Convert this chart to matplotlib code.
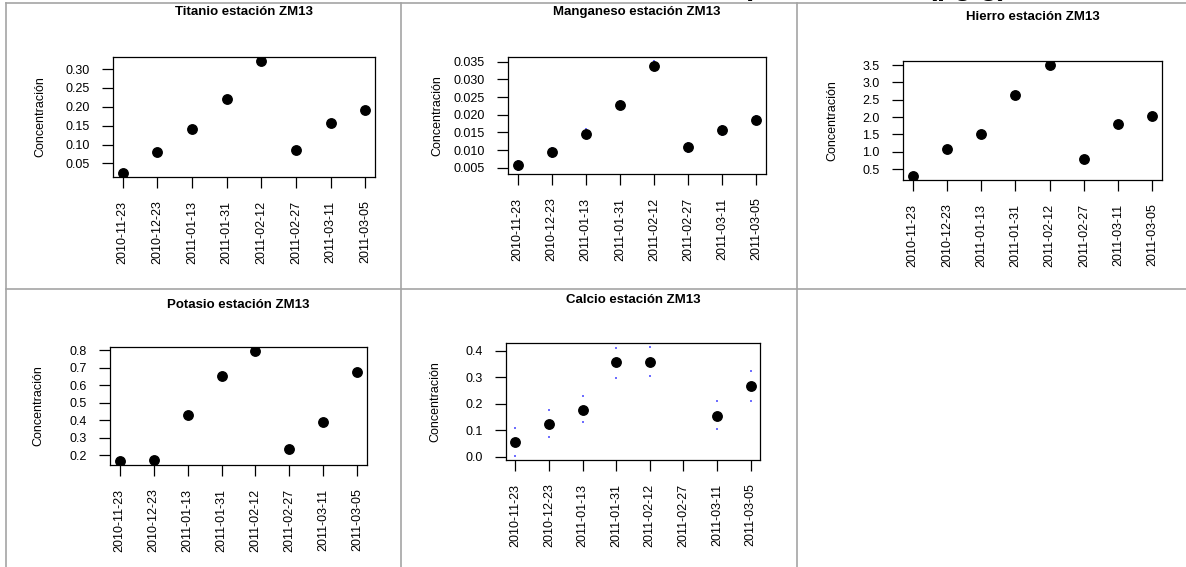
import numpy as np
import matplotlib
matplotlib.use('Agg')
import matplotlib.pyplot as plt
from matplotlib.lines import Line2D
from matplotlib.ticker import FormatStrFormatter

plt.rcParams['font.family'] = ['Liberation Sans', 'DejaVu Sans']

fechas = ['2010-11-23', '2010-12-23', '2011-01-13', '2011-01-31',
          '2011-02-12', '2011-02-27', '2011-03-11', '2011-03-05']

titanio = [0.026, 0.080, 0.142, 0.221, 0.320, 0.085, 0.158, 0.191]
manganeso = [0.0057, 0.0094, 0.0147, 0.0227, 0.0339, 0.0108, 0.0156, 0.0186]
manganeso_err = [0.0012] * 8
hierro = [0.31, 1.08, 1.52, 2.63, 3.49, 0.78, 1.79, 2.04]
potasio = [0.168, 0.174, 0.427, 0.652, 0.794, 0.236, 0.389, 0.678]
calcio = [0.055, 0.124, 0.177, 0.355, 0.357, np.nan, 0.154, 0.265]
calcio_sup = [0.108, 0.177, 0.229, 0.409, 0.412, np.nan, 0.211, 0.321]
calcio_inf = [0.004, 0.073, 0.129, 0.298, 0.305, np.nan, 0.103, 0.210]

W, H = 1186, 567
fig = plt.figure(figsize=(W / 100, H / 100), dpi=100)


def px_axes(x0, x1, y0, y1):
    return fig.add_axes([x0 / W, 1 - y1 / H, (x1 - x0) / W, (y1 - y0) / H])


def r_lim(vals):
    v = np.asarray(vals, dtype=float)
    v = v[~np.isnan(v)]
    lo, hi = v.min(), v.max()
    d = (hi - lo) * 0.04
    return lo - d, hi + d


def panel(box, titulo, title_y, ylab_x, y, ticks, fmt, sup=None, inf=None):
    x0, x1, y0, y1 = box
    ax = px_axes(x0, x1, y0, y1)
    pos = np.arange(len(fechas))
    allv = list(y)
    if sup is not None:
        ax.scatter(pos, sup, s=1.0, marker='s', color='#3030ff', alpha=0.7, lw=0, zorder=2)
        ax.scatter(pos, inf, s=1.0, marker='s', color='#3030ff', alpha=0.7, lw=0, zorder=2)
        allv += list(sup) + list(inf)
    ax.plot(pos, y, 'o', color='black', ms=6.8, zorder=3)
    ax.set_xlim(r_lim(pos))
    ax.set_ylim(r_lim(allv))
    ax.set_xticks(pos)
    ax.set_xticklabels(fechas, rotation=90, fontsize=9)
    ax.set_yticks(ticks)
    ax.yaxis.set_major_formatter(FormatStrFormatter(fmt))
    ax.tick_params(length=8, width=0.9, pad=9, labelsize=9)
    for s in ax.spines.values():
        s.set_linewidth(0.9)
    fig.text((x0 + x1) / 2 / W, 1 - title_y / H, titulo, ha='center', va='center',
             fontsize=9.5, fontweight='bold')
    fig.text(ylab_x / W, 1 - (y0 + y1) / 2 / H, 'Concentración', rotation=90,
             ha='center', va='center', fontsize=9)
    return ax


panel((113, 375, 57, 177), 'Titanio estación ZM13', 12, 40, titanio,
      [0.05, 0.10, 0.15, 0.20, 0.25, 0.30], '%.2f')
mn_sup = [a + b for a, b in zip(manganeso, manganeso_err)]
mn_inf = [a - b for a, b in zip(manganeso, manganeso_err)]
panel((508, 766, 57, 174), 'Manganeso estación ZM13', 12, 437, manganeso,
      [0.005, 0.010, 0.015, 0.020, 0.025, 0.030, 0.035], '%.3f', mn_sup, mn_inf)
panel((903, 1162, 61, 180), 'Hierro estación ZM13', 17, 832, hierro,
      [0.5, 1.0, 1.5, 2.0, 2.5, 3.0, 3.5], '%.1f')
panel((110, 367, 347, 465), 'Potasio estación ZM13', 305, 38, potasio,
      [0.2, 0.3, 0.4, 0.5, 0.6, 0.7, 0.8], '%.1f')
panel((506, 760, 343, 460), 'Calcio estación ZM13', 300, 435, calcio,
      [0.0, 0.1, 0.2, 0.3, 0.4], '%.1f', calcio_sup, calcio_inf)

# table borders
gris = '#a4a4a4'
for xv in [6, 401, 797]:
    fig.add_artist(Line2D([xv / W, xv / W], [1 - 3 / H, 0], color=gris, lw=1.2,
                          transform=fig.transFigure))
for yv in [3, 289]:
    fig.add_artist(Line2D([6 / W, 1], [1 - yv / H, 1 - yv / H], color=gris, lw=1.2,
                          transform=fig.transFigure))

# title cut off at the top edge (only the descenders show)
fig.text(1008 / W, 1 + 5 / H, 'Concentraciones por estación (µg/g)', ha='right',
         va='baseline', fontsize=21, fontweight='bold', zorder=0)

fig.savefig('out.png', dpi=100)
